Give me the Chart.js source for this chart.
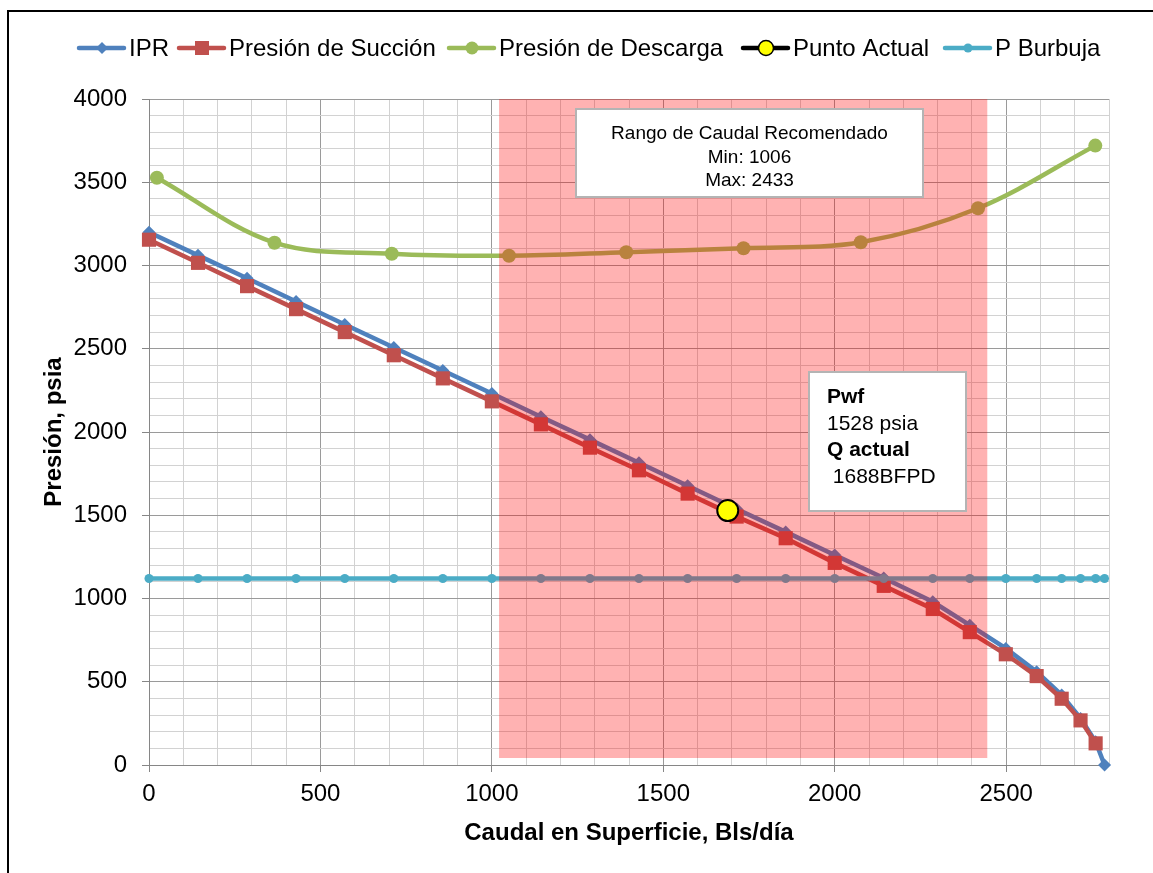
<!DOCTYPE html>
<html>
<head>
<meta charset="utf-8">
<script src="https://cdn.jsdelivr.net/npm/chart.js@4.4.1/dist/chart.umd.min.js"></script>
<style>
  html, body { margin: 0; padding: 0; background: #ffffff; }
  #wrap { position: relative; width: 1153px; height: 873px; }
</style>
</head>
<body>
<div id="wrap"><canvas id="grafico"></canvas></div>
<script>
// Curva IPR (caudal en Bls/día, presión de fondo fluyente en psia)
const caudalIPR = [0, 143, 286, 429, 571, 714, 857, 1000, 1143, 1286, 1429, 1571, 1714, 1857,
                   2000, 2143, 2286, 2394, 2499, 2589, 2662, 2717, 2761, 2787];
const presionIPR = [3200, 3061, 2923, 2784, 2646, 2508, 2369, 2231, 2092, 1954, 1815, 1677, 1538, 1400,
                    1261, 1123, 980, 840, 700, 560, 420, 280, 140, 0];

// Presión de succión de la bomba
const caudalSuccion = [0, 143, 286, 429, 571, 714, 857, 1000, 1143, 1286, 1429, 1571, 1714, 1857,
                       2000, 2143, 2286, 2394, 2499, 2589, 2662, 2717, 2761];
const presionSuccion = [3155, 3016, 2876, 2738, 2600, 2461, 2322, 2184, 2046, 1906, 1770, 1630, 1492, 1362,
                        1214, 1076, 937, 798, 665, 534, 398, 268, 130];

// Presión de descarga de la bomba
const caudalDescarga = [23, 366, 708, 1050, 1392, 1734, 2076, 2418, 2760];
const presionDescarga = [3527, 3137, 3071, 3059, 3080, 3104, 3140, 3344, 3720];

// Presión de burbuja
const caudalBurbuja = [0, 143, 286, 429, 571, 714, 857, 1000, 1143, 1286, 1429, 1571, 1714, 1857,
                       2000, 2143, 2286, 2394, 2499, 2589, 2662, 2717, 2761, 2787];
const presionBurbuja = [1120, 1120, 1120, 1120, 1120, 1120, 1120, 1120, 1120, 1120, 1120, 1120, 1120, 1120,
                        1120, 1120, 1120, 1120, 1120, 1120, 1120, 1120, 1120, 1120];

// Punto de operación actual
const caudalActual = [1688];
const presionActual = [1528];

// Rango de caudal recomendado (zona sombreada)
const rangoCaudal = [1021, 2445];
const rangoPresion = [42, 4000];

// Textos de los recuadros
const textoRango = ['Rango de Caudal Recomendado', 'Min: 1006', 'Max: 2433'];
const textoActual = [['Pwf', true], ['1528 psia', false], ['Q actual', true], [' 1688BFPD', false]];

// Ejes
const ejeX = { min: 0, max: 2800, paso: 100, mayor: 500 };
const ejeY = { min: 0, max: 4000, paso: 100, mayor: 500 };

const FUENTE = "'Liberation Sans', Arial, sans-serif";
const AZUL = '#4F81BD', ROJO = '#C0504D', VERDE = '#9BBB59', CIAN = '#4BACC6';

function puntos(xs, ys) { return xs.map((x, i) => ({ x: x, y: ys[i] })); }

const esMayor = (v, m) => Math.abs(v % m) < 1e-6;

// Marco exterior y fondo
const marco = {
  id: 'marco',
  beforeDraw(chart) {
    const ctx = chart.ctx;
    ctx.save();
    ctx.fillStyle = '#ffffff';
    ctx.fillRect(0, 0, chart.width, chart.height);
    ctx.strokeStyle = '#000000';
    ctx.lineWidth = 2;
    ctx.strokeRect(8, 11, chart.width + 20, chart.height + 20);
    ctx.restore();
  }
};

// Zona sombreada del rango recomendado, sobre las curvas y bajo el punto actual
const zonaRango = {
  id: 'zonaRango',
  beforeDatasetDraw(chart, args) {
    if (chart.data.datasets[args.index].label !== 'Punto Actual') return;
    const sx = chart.scales.x, sy = chart.scales.y, ctx = chart.ctx;
    const x0 = sx.getPixelForValue(rangoCaudal[0]);
    const x1 = sx.getPixelForValue(rangoCaudal[1]);
    const y0 = sy.getPixelForValue(rangoPresion[1]);
    const y1 = sy.getPixelForValue(rangoPresion[0]);
    ctx.save();
    ctx.fillStyle = 'rgba(255, 0, 0, 0.30)';
    ctx.fillRect(x0, y0, x1 - x0, y1 - y0);
    ctx.restore();
  }
};

function marcador(ctx, tipo, x, y, color) {
  ctx.save();
  ctx.fillStyle = color;
  ctx.beginPath();
  if (tipo === 'rombo') {
    ctx.moveTo(x, y - 6); ctx.lineTo(x + 6, y); ctx.lineTo(x, y + 6); ctx.lineTo(x - 6, y); ctx.closePath();
    ctx.fill();
  } else if (tipo === 'cuadro') {
    ctx.rect(x - 7, y - 7, 14, 14); ctx.fill();
  } else if (tipo === 'circulo') {
    ctx.arc(x, y, 6.5, 0, Math.PI * 2); ctx.fill();
  } else if (tipo === 'circuloChico') {
    ctx.arc(x, y, 4.5, 0, Math.PI * 2); ctx.fill();
  } else if (tipo === 'actual') {
    ctx.arc(x, y, 7.5, 0, Math.PI * 2);
    ctx.fillStyle = '#FFFF00'; ctx.fill();
    ctx.lineWidth = 1.5; ctx.strokeStyle = '#000000'; ctx.stroke();
  }
  ctx.restore();
}

// Leyenda superior y recuadros de texto
const leyendaYRecuadros = {
  id: 'leyendaYRecuadros',
  afterDraw(chart) {
    const ctx = chart.ctx;
    const items = [
      { label: 'IPR', color: AZUL, tipo: 'rombo', x: 77 },
      { label: 'Presión de Succión', color: ROJO, tipo: 'cuadro', x: 177 },
      { label: 'Presión de Descarga', color: VERDE, tipo: 'circulo', x: 447 },
      { label: 'Punto Actual', color: '#000000', tipo: 'actual', x: 741 },
      { label: 'P Burbuja', color: CIAN, tipo: 'circuloChico', x: 943 }
    ];
    const yL = 48;
    ctx.save();
    items.forEach(it => {
      ctx.strokeStyle = it.color;
      ctx.lineWidth = 4.5;
      ctx.lineCap = 'round';
      ctx.beginPath();
      ctx.moveTo(it.x + 2, yL); ctx.lineTo(it.x + 47, yL); ctx.stroke();
      marcador(ctx, it.tipo, it.x + 25, yL, it.color);
      ctx.fillStyle = '#000000';
      ctx.font = '24px ' + FUENTE;
      ctx.textAlign = 'left';
      ctx.textBaseline = 'middle';
      ctx.fillText(it.label, it.x + 52, yL + 1);
    });

    // Recuadro del rango recomendado
    ctx.fillStyle = '#ffffff';
    ctx.fillRect(576, 109, 347, 88);
    ctx.strokeStyle = '#b4b4b4';
    ctx.lineWidth = 2;
    ctx.strokeRect(576, 109, 347, 88);
    ctx.fillStyle = '#000000';
    ctx.font = '19px ' + FUENTE;
    ctx.textAlign = 'center';
    ctx.textBaseline = 'alphabetic';
    textoRango.forEach((t, i) => ctx.fillText(t, 749.5, 139 + i * 23.5));

    // Recuadro del punto actual
    ctx.fillStyle = '#ffffff';
    ctx.fillRect(809, 372, 157, 139);
    ctx.strokeStyle = '#b4b4b4';
    ctx.strokeRect(809, 372, 157, 139);
    ctx.fillStyle = '#000000';
    ctx.textAlign = 'left';
    textoActual.forEach((t, i) => {
      ctx.font = (t[1] ? 'bold ' : '') + '21px ' + FUENTE;
      ctx.fillText(t[0], 827, 403 + i * 26.5);
    });
    ctx.restore();
  }
};

const config = {
  type: 'scatter',
  data: {
    datasets: [
      {
        label: 'IPR', data: puntos(caudalIPR, presionIPR), showLine: true, order: 5,
        borderColor: AZUL, backgroundColor: AZUL, borderWidth: 4.5, tension: 0,
        pointStyle: 'rectRot', pointRadius: 6.5, pointBorderWidth: 0, clip: false
      },
      {
        label: 'Presión de Succión', data: puntos(caudalSuccion, presionSuccion), showLine: true, order: 4,
        borderColor: ROJO, backgroundColor: ROJO, borderWidth: 4.5, tension: 0,
        pointStyle: 'rect', pointRadius: 10, pointBorderWidth: 0, clip: false
      },
      {
        label: 'Presión de Descarga', data: puntos(caudalDescarga, presionDescarga), showLine: true, order: 3,
        borderColor: VERDE, backgroundColor: VERDE, borderWidth: 4.5, tension: 0.35,
        pointStyle: 'circle', pointRadius: 7, pointBorderWidth: 0, clip: false
      },
      {
        label: 'P Burbuja', data: puntos(caudalBurbuja, presionBurbuja), showLine: true, order: 2,
        borderColor: CIAN, backgroundColor: CIAN, borderWidth: 4.5, tension: 0,
        pointStyle: 'circle', pointRadius: 4.5, pointBorderWidth: 0, clip: false
      },
      {
        label: 'Punto Actual', data: puntos(caudalActual, presionActual), showLine: false, order: 0,
        borderColor: '#000000', backgroundColor: '#FFFF00',
        pointStyle: 'circle', pointRadius: 10.5, pointBorderWidth: 2, clip: false
      }
    ]
  },
  options: {
    responsive: true,
    maintainAspectRatio: false,
    animation: false,
    layout: { padding: { left: 0, right: 44, top: 99, bottom: 0 } },
    plugins: { legend: { display: false }, tooltip: { enabled: false } },
    elements: { point: { hoverRadius: 0 } },
    scales: {
      x: {
        type: 'linear', min: ejeX.min, max: ejeX.max,
        afterFit(s) { s.height = 108; },
        ticks: {
          stepSize: ejeX.paso, autoSkip: false, maxRotation: 0, padding: 8,
          color: '#000000', font: { family: FUENTE, size: 24 },
          callback: v => esMayor(v, ejeX.mayor) ? String(v) : ''
        },
        grid: {
          color: c => (c.tick && esMayor(c.tick.value, ejeX.mayor)) ? '#9a9a9a' : '#d2d2d2',
          tickColor: c => (c.tick && esMayor(c.tick.value, ejeX.mayor)) ? '#868686' : 'rgba(0,0,0,0)',
          tickLength: 7, lineWidth: 1
        },
        border: { color: '#868686', width: 1 },
        title: {
          display: true, text: 'Caudal en Superficie, Bls/día', color: '#000000',
          font: { family: FUENTE, size: 24, weight: 'bold' },
          padding: { top: 0, bottom: 25 }
        }
      },
      y: {
        type: 'linear', min: ejeY.min, max: ejeY.max,
        afterFit(s) { s.width = 149; },
        ticks: {
          stepSize: ejeY.paso, autoSkip: false, padding: 15,
          color: '#000000', font: { family: FUENTE, size: 24 },
          callback: v => esMayor(v, ejeY.mayor) ? String(v) : ''
        },
        grid: {
          color: c => (c.tick && esMayor(c.tick.value, ejeY.mayor)) ? '#9a9a9a' : '#d2d2d2',
          tickColor: c => (c.tick && esMayor(c.tick.value, ejeY.mayor)) ? '#868686' : 'rgba(0,0,0,0)',
          tickLength: 7, lineWidth: 1
        },
        border: { color: '#868686', width: 1 },
        title: {
          display: true, text: 'Presión, psia', color: '#000000',
          font: { family: FUENTE, size: 24, weight: 'bold' },
          padding: { top: 40, bottom: 0 }
        }
      }
    }
  },
  plugins: [marco, zonaRango, leyendaYRecuadros]
};

new Chart(document.getElementById('grafico'), config);
</script>
</body>
</html>
